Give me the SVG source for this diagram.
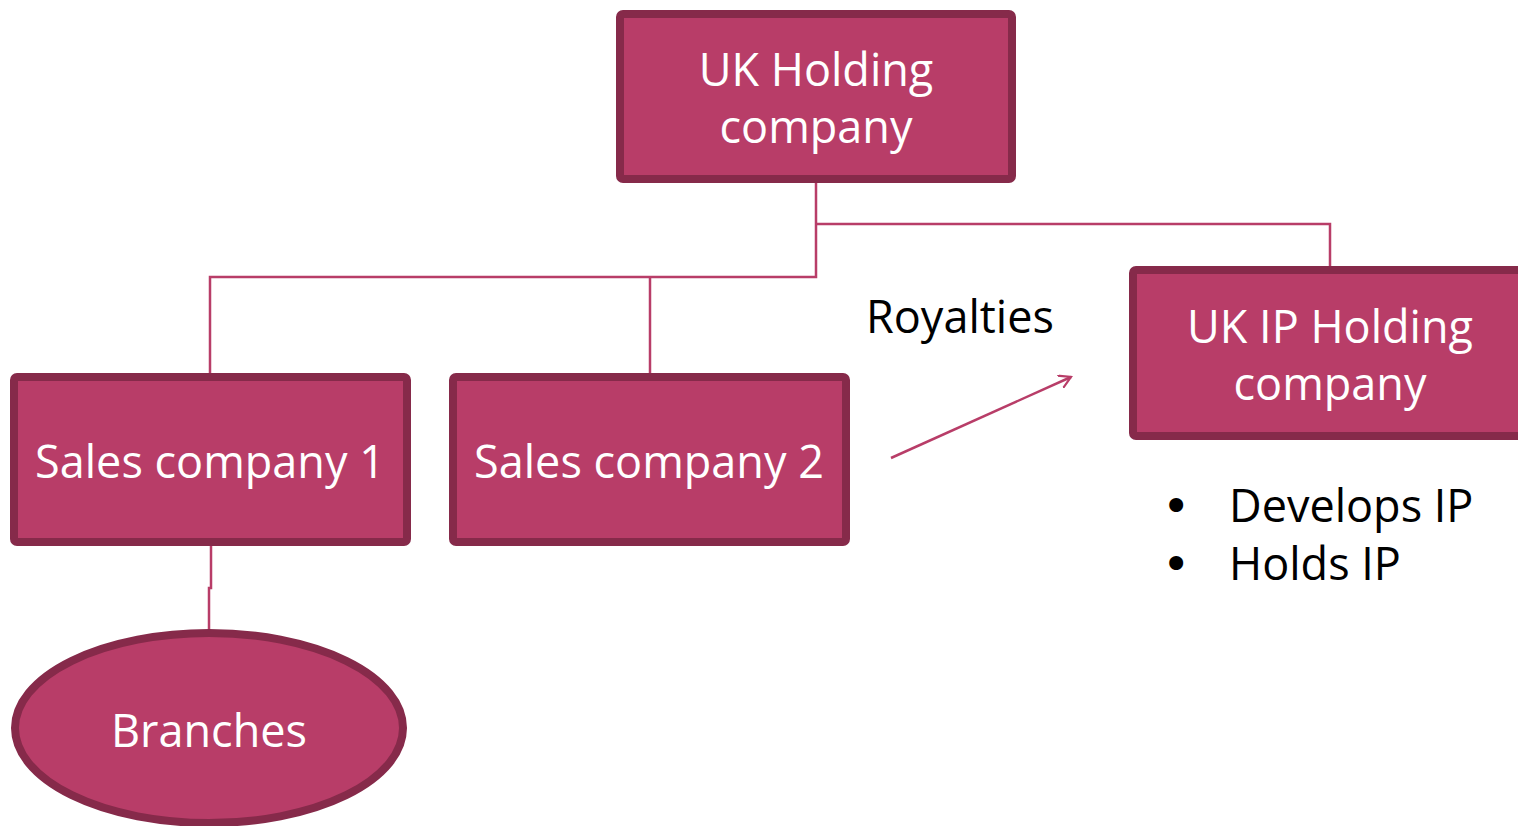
<svg xmlns="http://www.w3.org/2000/svg" width="1518" height="826" viewBox="0 0 1518 826">
  <style>
    .box { fill: #b83d68; stroke: #862a4a; stroke-width: 8; }
    .label { font-family: "Open Sans", "Liberation Sans", sans-serif; font-size: 45px; fill: #ffffff; text-anchor: middle; }
    .note { font-family: "Open Sans", "Liberation Sans", sans-serif; font-size: 45px; fill: #000000; }
    .bullet { font-family: "DejaVu Sans", sans-serif; font-size: 48px; fill: #000000; }
    .link { fill: none; stroke: #b83d68; stroke-width: 2.5; }
  </style>
  <defs>
    <marker id="openArrow" markerWidth="14" markerHeight="14" refX="12" refY="7" orient="auto" markerUnits="userSpaceOnUse" viewBox="0 0 14 14">
      <path d="M0,0 L12,7 L0,14" fill="none" stroke="#b83d68" stroke-width="2.2"/>
    </marker>
  </defs>
  <rect width="1518" height="826" fill="#ffffff"/>

  <g id="connectors">
    <path class="link" d="M816,183 V277 H210 V373"/>
    <path class="link" d="M650,277 V373"/>
    <path class="link" d="M816,224 H1330 V266"/>
    <path class="link" d="M211,546 V588 H209 V630"/>
    <line class="link" x1="891" y1="458" x2="1071" y2="377" stroke-width="2.2" marker-end="url(#openArrow)"/>
  </g>

  <g id="uk-holding">
    <rect class="box" x="620" y="14" width="392" height="165" rx="3"/>
    <text class="label" x="816" y="86">UK Holding</text>
    <text class="label" x="816" y="143">company</text>
  </g>

  <g id="uk-ip-holding">
    <rect class="box" x="1133" y="270" width="395" height="166" rx="3"/>
    <text class="label" x="1330" y="343">UK IP Holding</text>
    <text class="label" x="1330" y="400">company</text>
  </g>

  <g id="sales-company-1">
    <rect class="box" x="14" y="377" width="393" height="165" rx="3"/>
    <text class="label" x="210" y="478">Sales company 1</text>
  </g>

  <g id="sales-company-2">
    <rect class="box" x="453" y="377" width="393" height="165" rx="3"/>
    <text class="label" x="649" y="478">Sales company 2</text>
  </g>

  <g id="branches">
    <ellipse class="box" cx="209" cy="728" rx="194" ry="95"/>
    <text class="label" x="209" y="747">Branches</text>
  </g>

  <g id="royalties">
    <text class="note" x="866" y="333">Royalties</text>
  </g>

  <g id="ip-duties">
    <text class="bullet" x="1162" y="523">•</text>
    <text class="note" x="1229" y="522">Develops IP</text>
    <text class="bullet" x="1162" y="581">•</text>
    <text class="note" x="1229" y="580">Holds IP</text>
  </g>
</svg>
